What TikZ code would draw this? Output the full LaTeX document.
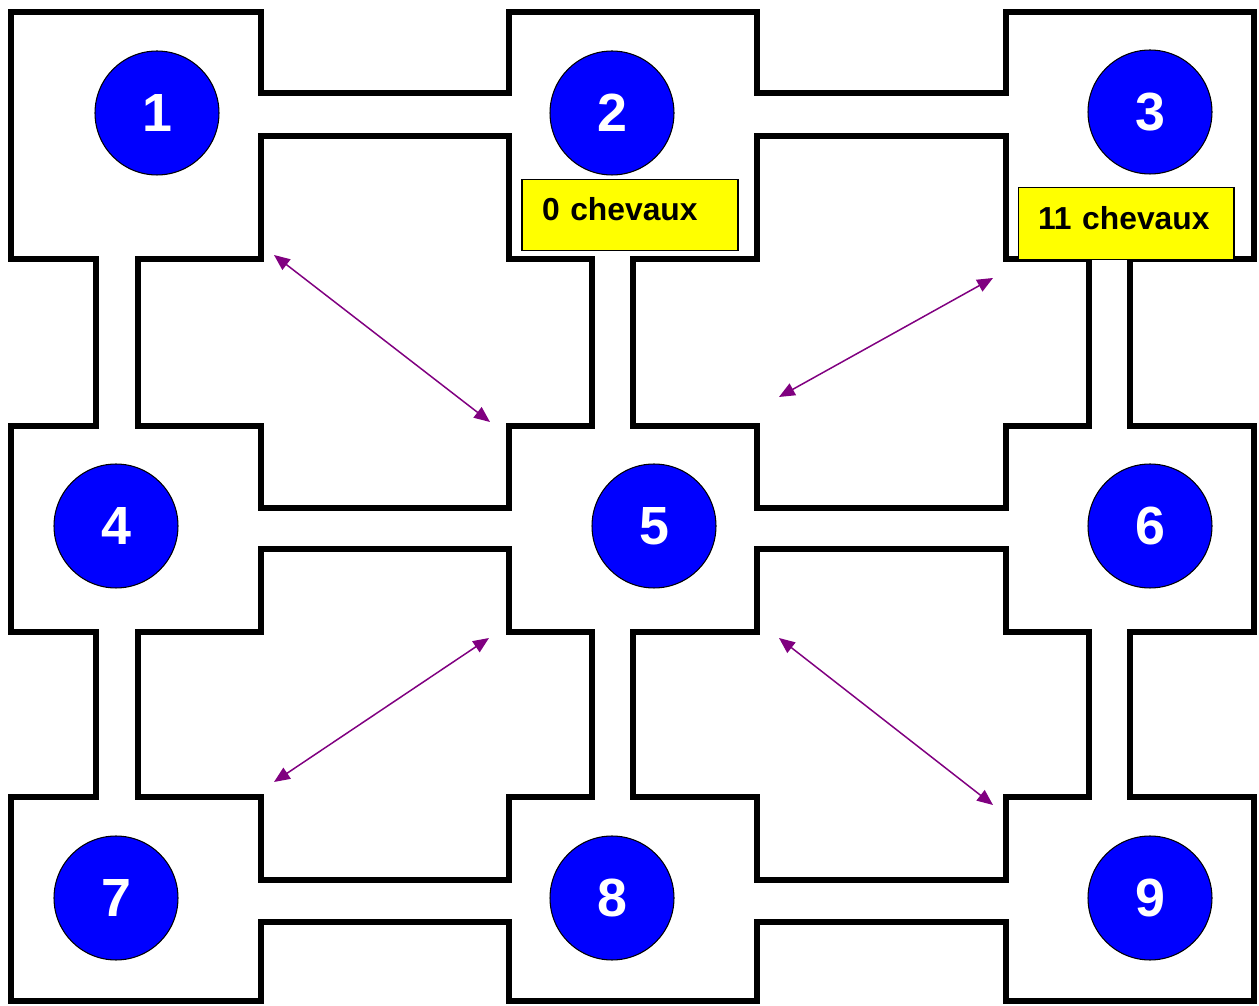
\documentclass[tikz,border=0pt]{standalone}
\usepackage{fontspec}
\setmainfont{Liberation Sans}
\usepackage{xcolor}
\usepackage{tikz}
\usetikzlibrary{arrows.meta}
\definecolor{roomblue}{RGB}{0,0,255}
\definecolor{signyellow}{RGB}{255,255,0}
\definecolor{passpurple}{RGB}{128,0,128}

\begin{document}
\begin{tikzpicture}[
			x = 0.02cm, y = -0.02cm,
			wall/.style = {line width = 2.9pt, line join = miter},
			room/.style = {circle, draw = black, fill = roomblue, line width = 0.6pt,
				minimum size = 2.48cm, inner sep = 0pt, text = white,
				font = \fontsize{30.6}{36}\selectfont\bfseries},
			sign/.style = {rectangle, draw = black, fill = signyellow, line width = 0.6pt,
				minimum height = 1.43cm, text width = 3.52cm, inner xsep = 0.4cm,
				align = left, text depth = 0.24cm,
				font = \fontsize{18.1}{22}\selectfont\bfseries},
			passage/.style = {passpurple, line width = 0.85pt,
				{Triangle[length=9pt,width=7.5pt]}-{Triangle[length=9pt,width=7.5pt]}}
			]

			\useasboundingbox (0,0) rectangle (1259,1006);

			% columns
			\def\xA{11}
			\def\xB{96}
			\def\xC{138}
			\def\xD{261}
			\def\xE{509}
			\def\xF{592}
			\def\xG{633}
			\def\xH{757}
			\def\xI{1006}
			\def\xJ{1089}
			\def\xK{1130}
			\def\xL{1254}
			% rows
			\def\yA{12}
			\def\yB{93}
			\def\yC{136}
			\def\yD{259}
			\def\yE{426}
			\def\yF{508}
			\def\yG{549}
			\def\yH{632}
			\def\yI{797}
			\def\yJ{880}
			\def\yK{922}
			\def\yL{1001}

			% outer wall
			\draw[wall] (\xA,\yA) -- (\xD,\yA) -- (\xD,\yB) -- (\xE,\yB) -- (\xE,\yA) -- (\xH,\yA) -- (\xH,\yB) -- (\xI,\yB) -- (\xI,\yA) -- (\xL,\yA)
				-- (\xL,\yD) -- (\xK,\yD) -- (\xK,\yE) -- (\xL,\yE) -- (\xL,\yH) -- (\xK,\yH) -- (\xK,\yI) -- (\xL,\yI) -- (\xL,\yL)
				-- (\xI,\yL) -- (\xI,\yK) -- (\xH,\yK) -- (\xH,\yL) -- (\xE,\yL) -- (\xE,\yK) -- (\xD,\yK) -- (\xD,\yL) -- (\xA,\yL)
				-- (\xA,\yI) -- (\xB,\yI) -- (\xB,\yH) -- (\xA,\yH) -- (\xA,\yE) -- (\xB,\yE) -- (\xB,\yD) -- (\xA,\yD) -- cycle;

			% inner blocks
			\draw[wall] (\xD,\yC) -- (\xE,\yC) -- (\xE,\yD) -- (\xF,\yD) -- (\xF,\yE) -- (\xE,\yE) -- (\xE,\yF) -- (\xD,\yF) -- (\xD,\yE) -- (\xC,\yE) -- (\xC,\yD) -- (\xD,\yD) -- cycle;
			\draw[wall] (\xH,\yC) -- (\xI,\yC) -- (\xI,\yD) -- (\xJ,\yD) -- (\xJ,\yE) -- (\xI,\yE) -- (\xI,\yF) -- (\xH,\yF) -- (\xH,\yE) -- (\xG,\yE) -- (\xG,\yD) -- (\xH,\yD) -- cycle;
			\draw[wall] (\xD,\yG) -- (\xE,\yG) -- (\xE,\yH) -- (\xF,\yH) -- (\xF,\yI) -- (\xE,\yI) -- (\xE,\yJ) -- (\xD,\yJ) -- (\xD,\yI) -- (\xC,\yI) -- (\xC,\yH) -- (\xD,\yH) -- cycle;
			\draw[wall] (\xH,\yG) -- (\xI,\yG) -- (\xI,\yH) -- (\xJ,\yH) -- (\xJ,\yI) -- (\xI,\yI) -- (\xI,\yJ) -- (\xH,\yJ) -- (\xH,\yI) -- (\xG,\yI) -- (\xG,\yH) -- (\xH,\yH) -- cycle;

			% rooms
			\node[room] (r1) at (157,113) {1};
			\node[room] (r2) at (612,113) {2};
			\node[room] (r3) at (1150,112) {3};
			\node[room] (r4) at (116,526) {4};
			\node[room] (r5) at (654,526) {5};
			\node[room] (r6) at (1150,526) {6};
			\node[room] (r7) at (116,898) {7};
			\node[room] (r8) at (612,898) {8};
			\node[room] (r9) at (1150,898) {9};

			\node[sign] (sign2) at (630,215) {0 chevaux};
			\node[sign] (sign3) at (1126,223.5) {11 chevaux};

			% diagonal passages
			\coordinate (p1a) at (274,255);
			\coordinate (p1b) at (490,422);
			\coordinate (p2a) at (779,397);
			\coordinate (p2b) at (993,278);
			\coordinate (p3a) at (274,782);
			\coordinate (p3b) at (489,638);
			\coordinate (p4a) at (779,638);
			\coordinate (p4b) at (993,805);

			\draw[passage] (p1a) -- (p1b);
			\draw[passage] (p2a) -- (p2b);
			\draw[passage] (p3a) -- (p3b);
			\draw[passage] (p4a) -- (p4b);

		\end{tikzpicture}
\end{document}
